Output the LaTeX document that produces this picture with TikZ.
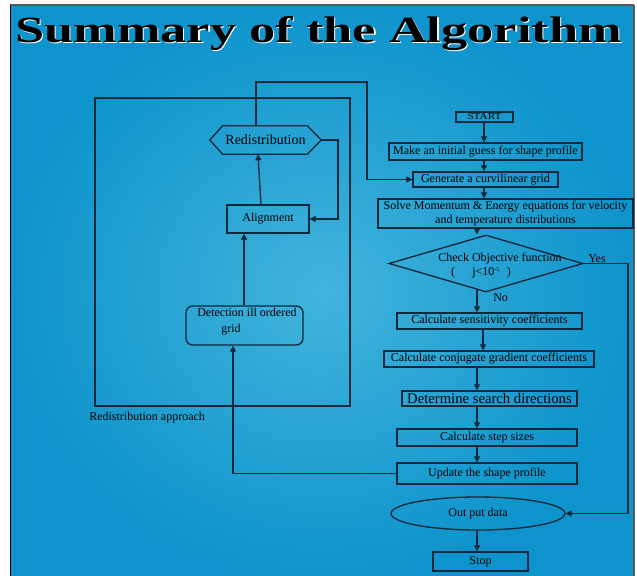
\documentclass[tikz,border=0pt]{standalone}
\usepackage{fontspec}
\setmainfont{Liberation Serif}
\usetikzlibrary{shapes.geometric,arrows.meta,calc}
\definecolor{bgin}{RGB}{66,180,220}
\definecolor{bgout}{RGB}{14,148,204}
\definecolor{lnc}{RGB}{16,40,60}
\begin{document}
\begin{tikzpicture}[x=0.75pt,y=-0.75pt,
  box/.style={draw=lnc, line width=1pt, inner sep=0pt, font=\fontsize{9}{10}\selectfont},
  txt/.style={inner sep=0pt, font=\fontsize{9}{10}\selectfont},
  conn/.style={draw=lnc, line width=1pt},
  arr/.style={draw=lnc, line width=1pt, -{Triangle[length=4.5pt,width=4.5pt]}}]
\useasboundingbox (0,0) rectangle (637,576);
\fill[white] (0,0) rectangle (637,576);
\shade[inner color=bgin, outer color=bgout] (11,6) rectangle (633,576);
\draw[gray!70!black, line width=1.2pt] (10,5) -- (634,5);
\draw[gray!70!black, line width=1.2pt] (634,5) -- (634,576);
\draw[black, line width=1.2pt] (10.5,5) -- (10.5,576);
% title
\node[anchor=base west, inner sep=0pt, text=white] (titleshadow) at (16.2,43.2) {\resizebox{455pt}{19.5pt}{\bfseries Summary of the Algorithm}};
\node[anchor=base west, inner sep=0pt, text=black] (title) at (15,42) {\resizebox{455pt}{19.5pt}{\bfseries Summary of the Algorithm}};
% left region
\node[conn, inner sep=0pt, minimum width=191.25pt, minimum height=231pt] (region) at (222.5,252) {};
\node[txt, anchor=west] (reglabel) at (89,418) {Redistribution approach};
\node[inner sep=0pt, minimum width=83.25pt, minimum height=21pt, font=\fontsize{10.5}{11}\selectfont] (redis) at (265.5,140) {Redistribution};
\draw[conn] (redis.west) -- ([xshift=9.75pt]redis.north west) -- ([xshift=-10.5pt]redis.north east) -- (redis.east) -- ([xshift=-10.5pt]redis.south east) -- ([xshift=9.75pt]redis.south west) -- cycle;
\node[box, minimum width=61.5pt, minimum height=21pt] (align) at (268,219) {Alignment};
\node[box, rounded corners=5pt, minimum width=87.75pt, minimum height=29.25pt] (detect) at (244.5,325.5) {};
\node[txt, anchor=west] (dt1) at (197,312) {Detection ill ordered};
\node[txt, anchor=west] (dt2) at (221,330) {grid};
% right column
\node[box, minimum width=42.75pt, minimum height=7.5pt] (start) at (484.5,117) {\resizebox{25.5pt}{4.5pt}{START}};
\node[box, minimum width=144.75pt, minimum height=12.75pt] (make) at (485.5,151.5) {Make an initial guess for shape profile};
\node[box, minimum width=108.75pt, minimum height=11.25pt] (gen) at (485.5,179.5) {Generate a curvilinear grid};
\node[box, minimum width=191.25pt, minimum height=21.75pt, align=center] (solve) at (505.5,213.5) {Solve Momentum \& Energy equations for velocity\\and temperature distributions};
\node[diamond, draw=lnc, line width=1pt, minimum width=145.5pt, minimum height=42.75pt, inner sep=0pt] (dia) at (486,263.5) {};
\node[txt] (chk1) at (500,259) {Check Objective function};
\node[txt] (chk2) at (481,273) {(\hspace{13pt}j<10\raisebox{3pt}{\fontsize{4}{4}\selectfont -5}\hspace{6pt})};
\node[txt, anchor=west] (yes) at (588,259) {Yes};
\node[txt, anchor=west] (no) at (493,298) {No};
\node[box, minimum width=138.75pt, minimum height=12pt] (sens) at (489.5,321) {Calculate sensitivity coefficients};
\node[box, minimum width=157.5pt, minimum height=12pt] (conj) at (489,359) {Calculate conjugate gradient coefficients};
\node[box, minimum width=131.25pt, minimum height=11.25pt, font=\fontsize{11}{12}\selectfont] (det) at (489.5,398.5) {Determine search directions};
\node[box, minimum width=135pt, minimum height=12.75pt] (step) at (487,437.5) {Calculate step sizes};
\node[box, minimum width=135pt, minimum height=15.75pt] (upd) at (487,473.5) {Update the shape profile};
\node[ellipse, draw=lnc, line width=1pt, minimum width=130.5pt, minimum height=24.75pt, inner sep=0pt, font=\fontsize{9}{10}\selectfont] (out) at (478,513.5) {Out put data};
\node[box, minimum width=71.25pt, minimum height=14.25pt] (stop) at (480.5,561.5) {Stop};
% coordinates
\coordinate (c484) at (484,0);
\coordinate (c477) at (477,0);
\coordinate (c483) at (483,0);
\coordinate (yx) at (628,0);
\coordinate (lx) at (233,0);
\coordinate (ax) at (244,0);
\coordinate (b1) at (261,0);
\coordinate (b2) at (258,0);
\coordinate (rl) at (338,0);
\coordinate (tl) at (256,82);
\coordinate (tr) at (367,82);
% connectors right
\draw[arr] (start.south -| c484) -- (make.north -| c484);
\draw[arr] (make.south -| c484) -- (gen.north -| c484);
\draw[arr] (gen.south -| c484) -- (solve.north -| c484);
\draw[arr] (solve.south -| c477) -- (dia.north -| c477);
\draw[arr] ([yshift=2pt]dia.south -| c477) -- (sens.north -| c477);
\draw[arr] (sens.south -| c483) -- (conj.north -| c483);
\draw[arr] (conj.south -| c477) -- (det.north -| c477);
\draw[arr] (det.south -| c477) -- (step.north -| c477);
\draw[arr] (step.south -| c477) -- (upd.north -| c477);
\draw[arr] (out.south -| c477) -- (stop.north -| c477);
\draw[arr] (dia.east) -- (dia.east -| yx) |- (out.east);
% connectors left
\draw[arr] (upd.west) -| (lx |- detect.south);
\draw[arr] (detect.north -| ax) -- (align.south -| ax);
\draw[arr] (align.north -| b1) -- (redis.south -| b2);
\draw[arr] (redis.east) -- (redis.east -| rl) |- (align.east);
\draw[arr] (redis.north -| tl) -- (tl) -- (tr) |- (gen.west);
\end{tikzpicture}
\end{document}
